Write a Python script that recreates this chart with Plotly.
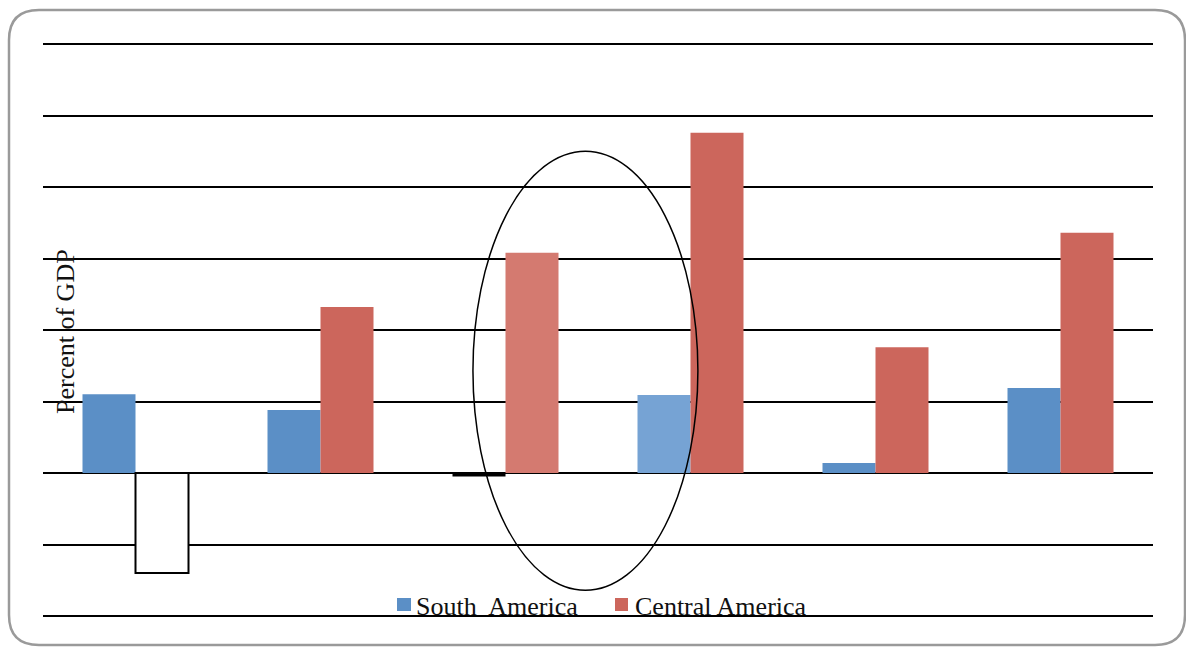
import plotly.graph_objects as go

# Six country-group periods (unlabelled on the axis)
periods = [0, 1, 2, 3, 4, 5]
south_america = [1.10, 0.88, -0.05, 1.09, 0.14, 1.19]
central_america = [-1.40, 2.32, 3.08, 4.76, 1.76, 3.36]
series_names = ["South  America", "Central America"]
axis_title = "Percent of GDP"
y_min, y_max = -2, 6

W, H = 1186, 648
L, R, T, B = 43, 1153, 44, 616  # plot area in pixels

BLUE = "#5B8FC6"
RED = "#CC665C"

sa_fill = [BLUE, BLUE, "#000000", "#76A3D4", BLUE, BLUE]
ca_fill = ["#FFFFFF", RED, "#D47A70", RED, RED, RED]
ca_line = ["#000000", RED, "#D47A70", RED, RED, RED]
ca_lw = [2, 0, 0, 0, 0, 0]


def px(x):
    return (x - L) / (R - L)


def py(y):
    return (B - y) / (B - T)


fig = go.Figure()
fig.add_trace(go.Bar(x=periods, y=south_america, name=series_names[0],
                     marker=dict(color=sa_fill, line=dict(width=0)),
                     showlegend=False))
fig.add_trace(go.Bar(x=periods, y=central_america, name=series_names[1],
                     marker=dict(color=ca_fill, line=dict(color=ca_line, width=ca_lw)),
                     showlegend=False))

shapes = []
# outermost grid lines on the top and bottom edges of the plot area
for yp in (0, 1):
    shapes.append(dict(type="line", xref="paper", yref="paper", x0=0, x1=1, y0=yp, y1=yp,
                       line=dict(color="black", width=2), layer="below"))

# highlight ellipse around the third and fourth groups
shapes.append(dict(type="circle", xref="x", yref="y", x0=1.824, x1=3.04, y0=-1.64, y1=4.50,
                   line=dict(color="black", width=1.5), fillcolor="rgba(0,0,0,0)", layer="above"))

# rounded outer frame
x0, x1, y0, y1, r = 9, 1185, 10, 645, 30
rx, ry = r / (R - L), r / (B - T)
path = (f"M {px(x0)+rx},{py(y0)} L {px(x1)-rx},{py(y0)} Q {px(x1)},{py(y0)} {px(x1)},{py(y0)-ry} "
        f"L {px(x1)},{py(y1)+ry} Q {px(x1)},{py(y1)} {px(x1)-rx},{py(y1)} "
        f"L {px(x0)+rx},{py(y1)} Q {px(x0)},{py(y1)} {px(x0)},{py(y1)+ry} "
        f"L {px(x0)},{py(y0)-ry} Q {px(x0)},{py(y0)} {px(x0)+rx},{py(y0)} Z")
shapes.append(dict(type="path", xref="paper", yref="paper", path=path,
                   line=dict(color="#9A9A9A", width=2.5), layer="below"))

# legend swatches
for (sx0, sx1), col in [((397, 411), BLUE), ((615, 628), RED)]:
    shapes.append(dict(type="rect", xref="paper", yref="paper",
                       x0=px(sx0), x1=px(sx1), y0=py(611), y1=py(598),
                       fillcolor=col, line=dict(width=0), layer="above"))

font = dict(family="'Times New Roman', 'Liberation Serif', 'DejaVu Serif', serif",
            size=26, color="#111111")
annotations = [
    dict(text=series_names[0], xref="paper", yref="paper", x=px(414), y=py(606),
         xanchor="left", yanchor="middle", showarrow=False, font=font),
    dict(text=series_names[1], xref="paper", yref="paper", x=px(633), y=py(606),
         xanchor="left", yanchor="middle", showarrow=False, font=font),
    dict(text=axis_title, xref="paper", yref="paper", x=px(65), y=py(332),
         xanchor="center", yanchor="middle", textangle=-90, showarrow=False, font=font),
]

fig.update_layout(
    width=W, height=H,
    margin=dict(l=L, r=W - R, t=T, b=H - B),
    paper_bgcolor="white", plot_bgcolor="white",
    font=font,
    barmode="group", bargap=0.427, bargroupgap=0,
    shapes=shapes, annotations=annotations,
    xaxis=dict(range=[-0.5, 5.5], showticklabels=False, showgrid=False,
               zeroline=False, showline=False, ticks=""),
    yaxis=dict(range=[y_min, y_max], dtick=1, tick0=0, showticklabels=False,
               showgrid=True, gridcolor="#000000", gridwidth=2,
               zeroline=True, zerolinecolor="#000000", zerolinewidth=2,
               showline=False, ticks=""),
)

fig.write_html("out.html")
